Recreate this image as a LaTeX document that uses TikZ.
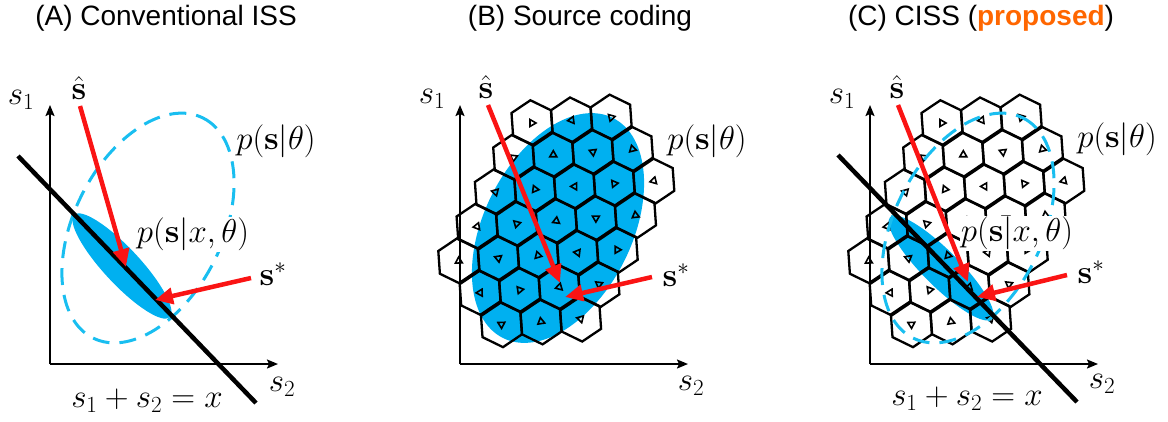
\RequirePackage{fix-cm}
\documentclass[tikz,border=0pt]{standalone}
\usepackage[no-math]{fontspec}
\usetikzlibrary{arrows.meta}
\newfontfamily\titlefont{Liberation Sans}
\definecolor{skyblue}{RGB}{0,176,240}
\definecolor{dashblue}{RGB}{25,190,240}
\definecolor{arrowred}{RGB}{250,20,20}
\definecolor{propose}{RGB}{255,102,0}
\tikzset{
  ttl/.style={font=\titlefont\fontsize{28}{32}\selectfont},
  lbl/.style={font=\fontsize{33}{38}\selectfont, inner sep=1pt},
  axisline/.style={line width=1.8pt, -{Stealth[length=11pt,width=9pt,inset=2pt]}},
  constraint/.style={line width=4.5pt},
  redarrow/.style={draw=arrowred, line width=4.5pt, -{Triangle[length=18pt,width=16pt]}},
  prior/.style={draw=dashblue, line width=3pt, dash pattern=on 17pt off 10pt},
  post/.style={fill=skyblue},
  cell/.style={line width=2.3pt},
  cellmark/.style={line width=1.6pt},
}
% hexagonal quantisation cells, rows from the top
\newcommand{\drawcells}{%
  \foreach \k/\cmin/\cmax in {0/0/2,1/0/3,2/0/4,3/0/4,4/0/4,5/1/4,6/2/4}{
    \foreach \c in {\cmin,...,\cmax}{
      \pgfmathsetmacro\cx{122+39.6*\c-18.3*\k}
      \pgfmathsetmacro\cy{123-2.8*\c+34.5*\k}
      \pgfmathsetmacro\rot{mod(53*\c+97*\k,360)}
      \draw[cell,shift={(\cx,\cy)}] (-94:22.8) -- (-34:22.8) -- (26:22.8)
        -- (86:22.8) -- (146:22.8) -- (206:22.8) -- cycle;
      \draw[cellmark,shift={(\cx,\cy)}] (\rot:4) -- (\rot+120:4) -- (\rot+240:4) -- cycle;
    }
  }
}
\begin{document}
\begin{tikzpicture}[x=1pt, y=-1pt]
\useasboundingbox (0,0) rectangle (1168,421);

% (A) conventional ISS
\begin{scope}
  \node[ttl] (a-ttl) at (166,18) {(A) Conventional ISS};
  \coordinate (a-o) at (50,364);
  \coordinate (a-ytip) at (50,105);
  \coordinate (a-xtip) at (278,364);
  \draw[axisline] (a-o) -- (a-ytip);
  \draw[axisline] (a-o) -- (a-xtip);
  \draw[prior, rotate around={63.4:(148,228)}] (148,228) ellipse [x radius=123, y radius=74];
  \fill[post, rotate around={-47:(122,266)}] (122,266) ellipse [x radius=70, y radius=18];
  \coordinate (a-l1) at (18,156);
  \coordinate (a-l2) at (256,403);
  \draw[constraint] (a-l1) -- (a-l2);
  \node[lbl] (a-s1) at (21,100) {$s_1$};
  \node[lbl] (a-s2) at (282,387) {$s_2$};
  \node[lbl] (a-shat) at (79,88) {$\hat{\mathbf{s}}$};
  \node[lbl] (a-sstar) at (273,274) {$\mathbf{s}^*$};
  \node[lbl] (a-prior) at (276,141) {$p(\mathbf{s}|\theta)$};
  \node[lbl, fill=white] (a-post) at (193,234) {$p(\mathbf{s}|x,\theta)$};
  \node[lbl] (a-sum) at (147,401) {$s_1+s_2=x$};
  \coordinate (a-h1) at (80,106);
  \coordinate (a-h2) at (126,267);
  \coordinate (a-t1) at (251,278);
  \coordinate (a-t2) at (155,300);
  \draw[redarrow] (a-h1) -- (a-h2);
  \draw[redarrow] (a-t1) -- (a-t2);
\end{scope}

% (B) source coding
\begin{scope}[xshift=410pt]
  \node[ttl] (b-ttl) at (170,18) {(B) Source coding};
  \coordinate (b-o) at (50,364);
  \coordinate (b-ytip) at (50,105);
  \coordinate (b-xtip) at (278,364);
  \fill[post, rotate around={63.4:(148,228)}] (148,228) ellipse [x radius=123, y radius=74];
  \draw[axisline] (b-o) -- (b-ytip);
  \draw[axisline] (b-o) -- (b-xtip);
  \drawcells
  \node[lbl] (b-s1) at (22,99) {$s_1$};
  \node[lbl] (b-s2) at (281,386) {$s_2$};
  \node[lbl] (b-shat) at (76,87) {$\hat{\mathbf{s}}$};
  \node[lbl] (b-sstar) at (266,275) {$\mathbf{s}^*$};
  \node[lbl] (b-prior) at (297,141) {$p(\mathbf{s}|\theta)$};
  \coordinate (b-h1) at (78,105);
  \coordinate (b-h2) at (150,283);
  \coordinate (b-t1) at (242,277);
  \coordinate (b-t2) at (155,297);
  \draw[redarrow] (b-h1) -- (b-h2);
  \draw[redarrow] (b-t1) -- (b-t2);
\end{scope}

% (C) CISS
\begin{scope}[xshift=820pt]
  \node[ttl] (c-ttl) at (161,18) {(C) CISS (\textbf{\textcolor{propose}{proposed}})};
  \coordinate (c-o) at (50,364);
  \coordinate (c-ytip) at (50,105);
  \coordinate (c-xtip) at (278,364);
  \draw[axisline] (c-o) -- (c-ytip);
  \draw[axisline] (c-o) -- (c-xtip);
  \fill[post, rotate around={-45:(121,268)}] (121,268) ellipse [x radius=72, y radius=18];
  \drawcells
  \draw[prior, rotate around={63.4:(148,228)}] (148,228) ellipse [x radius=123, y radius=74];
  \coordinate (c-l1) at (18,155);
  \coordinate (c-l2) at (257,402);
  \draw[constraint] (c-l1) -- (c-l2);
  \node[lbl, fill=white] (c-post) at (197,233) {$p(\mathbf{s}|x,\theta)$};
  \node[lbl] (c-s1) at (22,99) {$s_1$};
  \node[lbl] (c-s2) at (282,384) {$s_2$};
  \node[lbl] (c-shat) at (77,87) {$\hat{\mathbf{s}}$};
  \node[lbl] (c-sstar) at (271,272) {$\mathbf{s}^*$};
  \node[lbl] (c-prior) at (297,139) {$p(\mathbf{s}|\theta)$};
  \node[lbl] (c-sum) at (147,399) {$s_1+s_2=x$};
  \coordinate (c-h1) at (78,105);
  \coordinate (c-h2) at (148,282);
  \coordinate (c-t1) at (247,275);
  \coordinate (c-t2) at (157,297);
  \draw[redarrow] (c-h1) -- (c-h2);
  \draw[redarrow] (c-t1) -- (c-t2);
\end{scope}
\end{tikzpicture}
\end{document}
